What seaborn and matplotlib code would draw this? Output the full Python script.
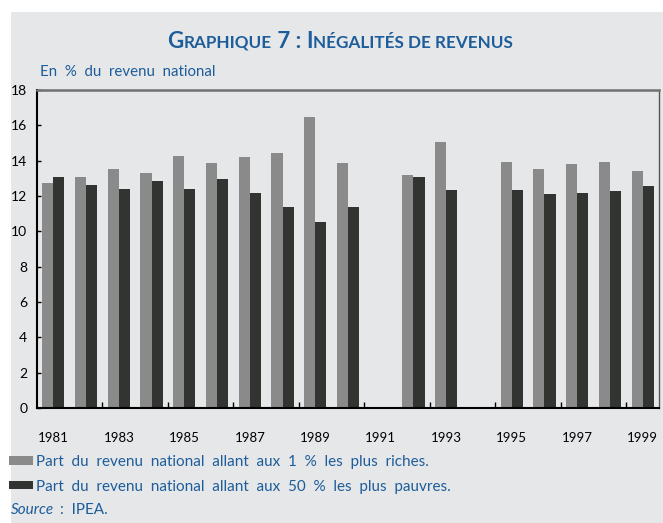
import numpy as np
import pandas as pd
import matplotlib
matplotlib.use("Agg")
import matplotlib.pyplot as plt
import seaborn as sns
from matplotlib.patches import Rectangle
from matplotlib.offsetbox import TextArea, HPacker, AnnotationBbox

# donnees (1991 et 1994 absents)
annees = [str(a) for a in range(1981, 2000)]
riches_1pc = [12.75, 13.1, 13.55, 13.3, 14.25, 13.85, 14.2, 14.45, 16.5, 13.85,
              np.nan, 13.2, 15.05, np.nan, 13.9, 13.55, 13.8, 13.9, 13.4]
pauvres_50pc = [13.1, 12.6, 12.4, 12.85, 12.4, 12.95, 12.15, 11.4, 10.55, 11.4,
                np.nan, 13.1, 12.35, np.nan, 12.35, 12.1, 12.15, 12.3, 12.55]
series = ["Part  du  revenu  national  allant  aux  1  %  les  plus  riches.",
          "Part  du  revenu  national  allant  aux  50  %  les  plus  pauvres."]
yticks = list(range(0, 19, 2))

df = pd.DataFrame({
    "annee": annees * 2,
    "part": riches_1pc + pauvres_50pc,
    "serie": [series[0]] * len(annees) + [series[1]] * len(annees),
})

bleu = "#1d5d9b"
fond = "#e6e7e8"
plt.rcParams["font.family"] = ["Lato", "DejaVu Sans"]

fig = plt.figure(figsize=(6.63, 5.23), dpi=100, facecolor="white")
fig.patches.append(Rectangle((11 / 663, 0), 1, 1 - 12 / 523, transform=fig.transFigure,
                             facecolor=fond, edgecolor="none", zorder=-5))
ax = fig.add_axes([37 / 663, 1 - 408 / 523, (659 - 37) / 663, (408 - 90) / 523])
ax.set_facecolor(fond)

sns.barplot(data=df, x="annee", y="part", hue="serie", order=annees,
            palette=["#8a8a8a", "#323431"], width=0.68, gap=0,
            errorbar=None, ax=ax, saturation=1)

ax.set_ylim(0, 18)
ax.set_xlim(-0.5, len(annees) - 0.5)
ax.set_yticks(yticks)
ax.set_yticklabels([str(t) for t in yticks], fontsize=10)
ax.tick_params(axis="y", direction="in", length=3, width=1, pad=7)

odd = [i for i, a in enumerate(annees) if int(a) % 2 == 1]
ax.set_xticks(odd)
ax.set_xticklabels([annees[i] for i in odd], fontsize=9.5)
ax.set_xticks([i - 0.5 for i in odd[1:]], minor=True)
ax.tick_params(axis="x", which="major", length=0, pad=17)
ax.tick_params(axis="x", which="minor", direction="in", length=4, width=1)
ax.set_xlabel("")
ax.set_ylabel("")

ax.spines["left"].set_color("black")
ax.spines["left"].set_linewidth(1.5)
ax.spines["bottom"].set_color("black")
ax.spines["bottom"].set_linewidth(1.5)
ax.spines["top"].set_color("#707070")
ax.spines["top"].set_linewidth(1.8)
ax.spines["right"].set_color("#555555")
ax.spines["right"].set_linewidth(1)

# legende sous le graphique
handles, labels = ax.get_legend_handles_labels()
ax.get_legend().remove()
leg = fig.legend(handles, labels, loc="upper left", bbox_to_anchor=(9 / 663, 1 - 455 / 523),
                 frameon=False, fontsize=11, handlelength=1.55, handleheight=0.45,
                 handletextpad=0.2, labelspacing=0.7, borderaxespad=0, borderpad=0)
for t in leg.get_texts():
    t.set_color(bleu)

fig.text(11 / 663, 1 - 510 / 523, "Source", color=bleu, fontsize=11, style="italic", va="center")
fig.text(60 / 663, 1 - 510 / 523, ":  IPEA.", color=bleu, fontsize=11, va="center")
fig.text(40 / 663, 1 - 72 / 523, "En  %  du  revenu  national", color=bleu, fontsize=10.8, va="center")

# titre en petites capitales
morceaux = [("G", 16), ("RAPHIQUE", 12.3), (" 7 : ", 16), ("I", 16),
            ("NÉGALITÉS DE REVENUS", 12.3)]
boites = [TextArea(s, textprops=dict(color=bleu, fontsize=fs, fontweight="bold"))
          for s, fs in morceaux]
titre = HPacker(children=boites, align="baseline", pad=0, sep=0)
fig.add_artist(AnnotationBbox(titre, (340 / 663, 1 - 41.5 / 523), xycoords="figure fraction",
                              frameon=False, box_alignment=(0.5, 0.5), pad=0))

fig.savefig("out.png", dpi=100, facecolor=fig.get_facecolor())
